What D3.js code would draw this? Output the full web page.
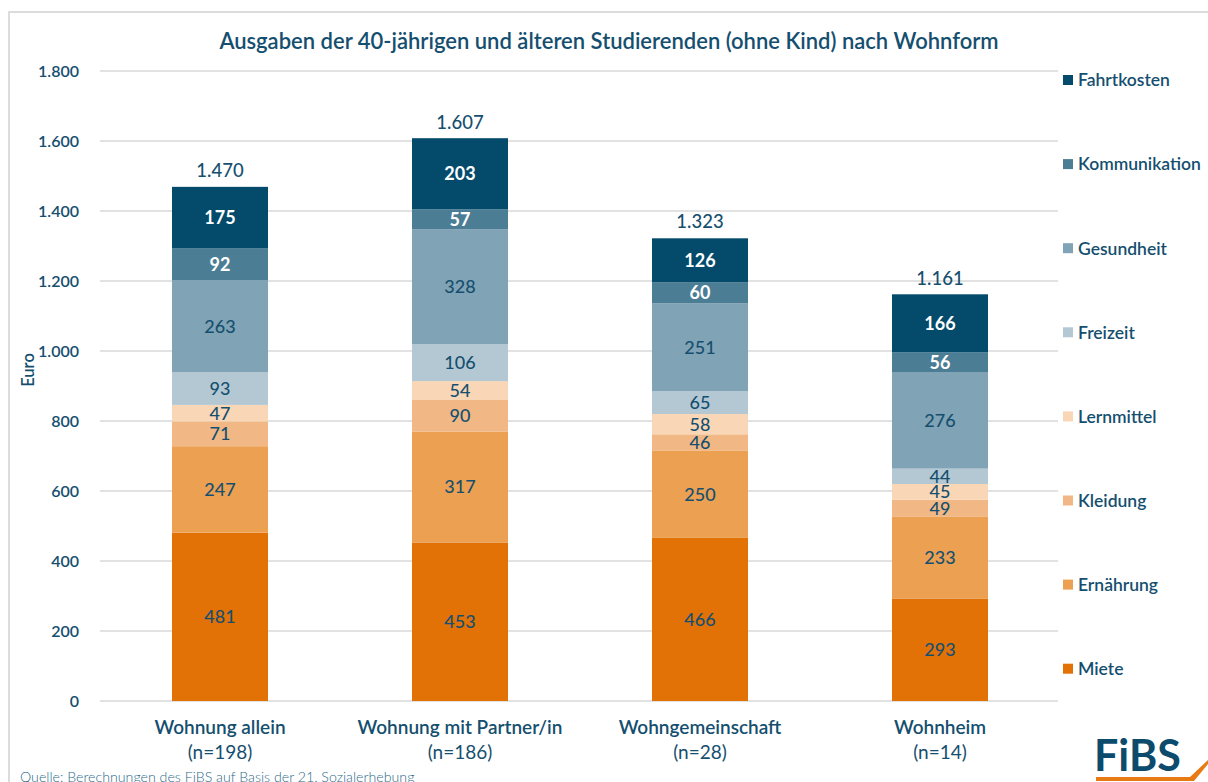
<!DOCTYPE html>
<html lang="de">
<head>
<meta charset="UTF-8">
<title>Ausgaben nach Wohnform</title>
<script src="https://cdn.jsdelivr.net/npm/d3@7"></script>
<style>
  body { margin: 0; background: #fff; }
  text { font-family: Lato, "Noto Sans", sans-serif; }
</style>
</head>
<body>
<script>
  // data
  var categories = ["Wohnung allein", "Wohnung mit Partner/in", "Wohngemeinschaft", "Wohnheim"];
  var sampleSizes = ["(n=198)", "(n=186)", "(n=28)", "(n=14)"];
  var series = ["Miete", "Ernährung", "Kleidung", "Lernmittel", "Freizeit", "Gesundheit", "Kommunikation", "Fahrtkosten"];
  var miete         = [481, 453, 466, 293];
  var ernaehrung    = [247, 317, 250, 233];
  var kleidung      = [71, 90, 46, 49];
  var lernmittel    = [47, 54, 58, 45];
  var freizeit      = [93, 106, 65, 44];
  var gesundheit    = [263, 328, 251, 276];
  var kommunikation = [92, 57, 60, 56];
  var fahrtkosten   = [175, 203, 126, 166];
  var totals = [1470, 1607, 1323, 1161];
  var yTicks = [0, 200, 400, 600, 800, 1000, 1200, 1400, 1600, 1800];

  var colors = ["#e37206", "#eca052", "#f1b885", "#f8d6b6", "#b3c8d3", "#80a3b5", "#4b7d95", "#034a6b"];
  var textDark = "#154f6f";

  var values = [miete, ernaehrung, kleidung, lernmittel, freizeit, gesundheit, kommunikation, fahrtkosten];
  var rows = categories.map(function(c, i) {
    var r = { cat: c };
    series.forEach(function(s, j) { r[s] = values[j][i]; });
    return r;
  });
  var stacked = d3.stack().keys(series)(rows);

  var w = 1208, h = 782;
  var svg = d3.select("body").append("svg")
    .attr("width", w)
    .attr("height", h);

  // frame
  svg.append("path")
    .attr("d", "M9," + h + "V12H" + w)
    .attr("fill", "none")
    .attr("stroke", "#dcdcdc")
    .attr("stroke-width", 2);

  var x = d3.scaleBand()
    .domain(categories)
    .range([100, 1060])
    .paddingInner(0.6)
    .paddingOuter(0.3);

  var y = d3.scaleLinear()
    .domain([0, 1800])
    .range([701, 71]);

  // grid
  svg.append("g")
    .selectAll("line")
    .data(yTicks)
    .enter()
    .append("line")
    .attr("x1", 100)
    .attr("x2", 1058)
    .attr("y1", function(d) { return y(d) })
    .attr("y2", function(d) { return y(d) })
    .attr("stroke", "#d9d9d9")
    .attr("stroke-width", 1.3);

  var yAxis = svg.append("g")
    .attr("transform", "translate(82,0)")
    .call(d3.axisLeft(y).tickValues(yTicks).tickSize(0)
      .tickFormat(function(d) { return d3.format(",")(d).replace(/,/g, ".") }));
  yAxis.select(".domain").remove();
  yAxis.selectAll("text")
    .attr("fill", textDark)
    .attr("font-size", 16)
    .attr("font-weight", 600)
    .attr("dx", 0);

  svg.append("text")
    .attr("transform", "translate(34,370) rotate(-90)")
    .attr("text-anchor", "middle")
    .attr("fill", textDark)
    .attr("font-size", 16.5)
    .attr("font-weight", 600)
    .text("Euro");

  // bars
  var layers = svg.selectAll("g.layer")
    .data(stacked)
    .enter()
    .append("g")
    .attr("class", "layer")
    .attr("fill", function(d, i) { return colors[i] });

  layers.selectAll("rect")
    .data(function(d) { return d })
    .enter()
    .append("rect")
    .attr("x", function(d) { return x(d.data.cat) })
    .attr("width", x.bandwidth())
    .attr("y", function(d) { return y(d[1]) })
    .attr("height", function(d) { return y(d[0]) - y(d[1]) });

  layers.each(function(layer, i) {
    d3.select(this).selectAll("text")
      .data(layer)
      .enter()
      .append("text")
      .attr("x", function(d) { return x(d.data.cat) + x.bandwidth() / 2 })
      .attr("y", function(d) { return (y(d[0]) + y(d[1])) / 2 })
      .attr("dy", "0.36em")
      .attr("text-anchor", "middle")
      .attr("font-size", 18)
      .attr("font-weight", i >= 6 ? 700 : 500)
      .attr("fill", i >= 6 ? "#ffffff" : textDark)
      .text(function(d) { return d[1] - d[0] });
  });

  // totals
  svg.selectAll("text.total")
    .data(totals)
    .enter()
    .append("text")
    .attr("class", "total")
    .attr("x", function(d, i) { return x(categories[i]) + x.bandwidth() / 2 })
    .attr("y", function(d, i) { return y(d) - 10 })
    .attr("text-anchor", "middle")
    .attr("font-size", 18.5)
    .attr("font-weight", 500)
    .attr("fill", textDark)
    .text(function(d) { return d3.format(",")(d).replace(/,/g, ".") });

  // x labels
  var xl = svg.selectAll("text.xlab")
    .data(categories)
    .enter()
    .append("text")
    .attr("class", "xlab")
    .attr("text-anchor", "middle")
    .attr("fill", textDark)
    .attr("font-size", 19)
    .attr("font-weight", 600);
  xl.append("tspan")
    .attr("x", function(d) { return x(d) + x.bandwidth() / 2 })
    .attr("y", 734)
    .text(function(d) { return d });
  xl.append("tspan")
    .attr("x", function(d) { return x(d) + x.bandwidth() / 2 })
    .attr("y", 759)
    .attr("font-weight", 400)
    .text(function(d, i) { return sampleSizes[i] });

  // legend
  var legend = svg.selectAll("g.legend")
    .data(series.slice().reverse())
    .enter()
    .append("g")
    .attr("class", "legend")
    .attr("transform", function(d, i) { return "translate(1063," + (80 + i * 84.1) + ")" });
  legend.append("rect")
    .attr("x", 0)
    .attr("y", -5)
    .attr("width", 10)
    .attr("height", 10)
    .attr("fill", function(d, i) { return colors[7 - i] });
  legend.append("text")
    .attr("x", 15)
    .attr("dy", "0.36em")
    .attr("fill", textDark)
    .attr("font-size", 17.5)
    .attr("font-weight", 600)
    .text(function(d) { return d });

  // title
  svg.append("text")
    .attr("x", 609)
    .attr("y", 49)
    .attr("text-anchor", "middle")
    .attr("fill", textDark)
    .attr("font-size", 22)
    .attr("font-weight", 600)
    .text("Ausgaben der 40-jährigen und älteren Studierenden (ohne Kind) nach Wohnform");

  // source
  svg.append("text")
    .attr("x", 20)
    .attr("y", 782)
    .attr("fill", "#2d6a8a")
    .attr("font-size", 14.2)
    .attr("font-weight", 300)
    .text("Quelle: Berechnungen des FiBS auf Basis der 21. Sozialerhebung");

  // logo
  svg.append("text")
    .attr("x", 1094)
    .attr("y", 771)
    .attr("fill", "#0d4b6d")
    .attr("font-size", 43)
    .attr("font-weight", 700)
    .text("FiBS");
  svg.append("path")
    .attr("d", "M1096,777H1190L1208,760V764L1194,781H1096Z")
    .attr("fill", "#e87a14");
</script>
</body>
</html>
